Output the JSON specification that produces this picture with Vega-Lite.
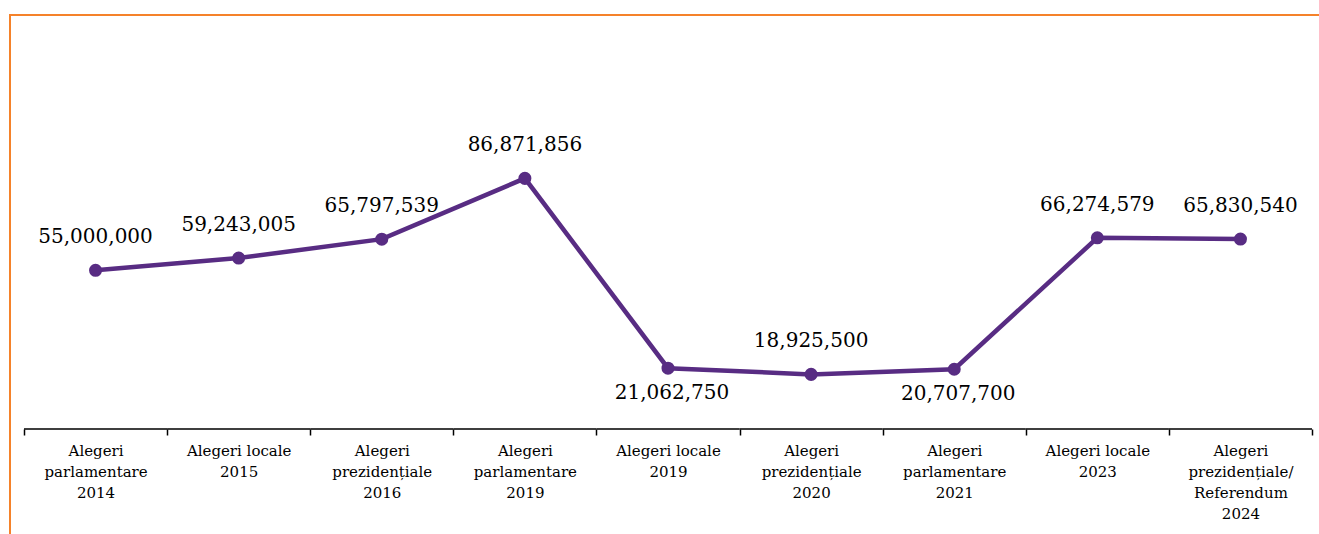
{
  "$schema": "https://vega.github.io/schema/vega-lite/v6.json",
  "width": 1316,
  "height": 540,
  "autosize": {"type": "none"},
  "padding": {"left": 10, "top": 15, "right": 0, "bottom": 0},
  "background": "white",
  "config": {"view": {"stroke": "#F5822A", "strokeWidth": 2}, "font": "DejaVu Serif"},
  "data": {"values": [
    {"event": "Alegeri\nparlamentare\n2014", "value": 55000000},
    {"event": "Alegeri locale\n2015", "value": 59243005},
    {"event": "Alegeri\nprezidențiale\n2016", "value": 65797539},
    {"event": "Alegeri\nparlamentare\n2019", "value": 86871856},
    {"event": "Alegeri locale\n2019", "value": 21062750},
    {"event": "Alegeri\nprezidențiale\n2020", "value": 18925500},
    {"event": "Alegeri\nparlamentare\n2021", "value": 20707700},
    {"event": "Alegeri locale\n2023", "value": 66274579},
    {"event": "Alegeri\nprezidențiale/\nReferendum\n2024", "value": 65830540}
  ]},
  "encoding": {
    "x": {
      "field": "event", "type": "nominal", "sort": null,
      "scale": {"type": "band", "paddingInner": 0, "paddingOuter": 0.0978},
      "axis": {
        "title": null, "labelAngle": 0,
        "labelExpr": "split(datum.label, '\\n')",
        "labelFont": "DejaVu Serif", "labelFontSize": 15, "labelLineHeight": 21,
        "labelColor": "black", "labelPadding": 8, "labelLimit": 0, "labelOverlap": false,
        "domain": false,
        "tickColor": "black", "tickWidth": 1.5, "tickSize": 6, "tickBand": "extent",
        "offset": -126
      }
    },
    "y": {
      "field": "value", "type": "quantitative",
      "scale": {"domain": [-43680000, 143500000], "nice": false, "zero": false},
      "axis": null
    }
  },
  "layer": [
    {
      "mark": {"type": "bar", "fill": null, "stroke": "black", "strokeWidth": 1.5},
      "encoding": {"y": {"datum": 0, "type": "quantitative"}, "y2": {"datum": 0}}
    },
    {"mark": {"type": "line", "color": "#582C83", "strokeWidth": 4.5}},
    {"mark": {"type": "point", "filled": true, "opacity": 1, "color": "#582C83", "size": 170}},
    {
      "transform": [{"filter": {"not": {"field": "event", "oneOf": ["Alegeri locale\n2019", "Alegeri\nparlamentare\n2021"]}}}],
      "mark": {"type": "text", "fontSize": 20, "color": "black", "baseline": "middle", "dy": -33},
      "encoding": {"text": {"field": "value", "type": "quantitative", "format": ",d"}}
    },
    {
      "transform": [{"filter": {"field": "event", "oneOf": ["Alegeri locale\n2019", "Alegeri\nparlamentare\n2021"]}}],
      "mark": {"type": "text", "fontSize": 20, "color": "black", "baseline": "middle", "dy": 25, "dx": 4},
      "encoding": {"text": {"field": "value", "type": "quantitative", "format": ",d"}}
    }
  ]
}
